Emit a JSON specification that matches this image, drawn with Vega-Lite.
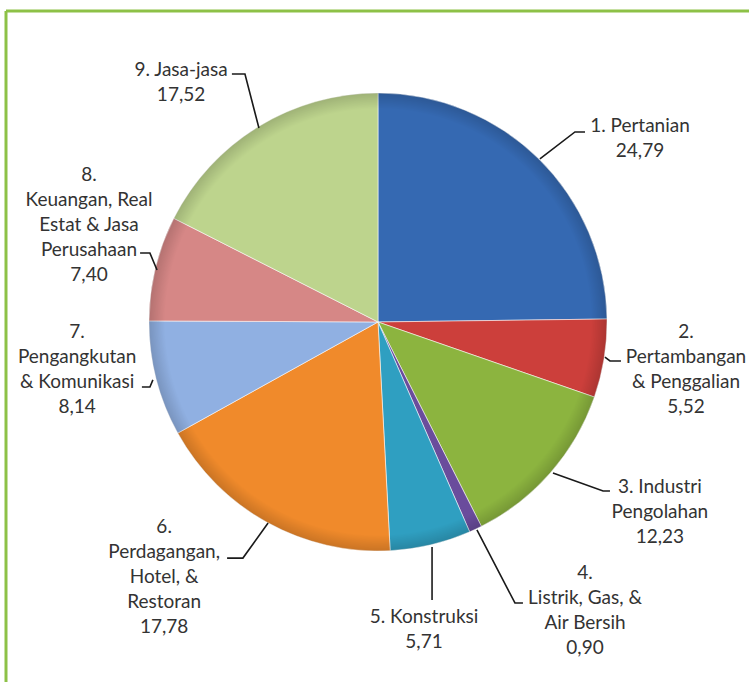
{
  "$schema": "https://vega.github.io/schema/vega-lite/v6.json",
  "width": 743,
  "height": 671,
  "padding": {"left": 6, "top": 11, "right": 0, "bottom": 0},
  "autosize": {"type": "none"},
  "background": "#ffffff",
  "config": {
    "view": {"stroke": null},
    "text": {"font": "Lato", "fontSize": 19, "fill": "#333333", "lineBreak": "\n", "lineHeight": 25}
  },
  "datasets": {
    "slices": [
      {"id": 1, "name": "Pertanian", "value": 24.79, "label": "1. Pertanian\n24,79", "lx": 114.4, "ly": 85.6},
      {"id": 2, "name": "Pertambangan & Penggalian", "value": 5.52, "label": "2.\nPertambangan\n& Penggalian\n5,52", "lx": 134.5, "ly": -4.4},
      {"id": 3, "name": "Industri Pengolahan", "value": 12.23, "label": "3. Industri\nPengolahan\n12,23", "lx": 123.1, "ly": -72.1},
      {"id": 4, "name": "Listrik, Gas, & Air Bersih", "value": 0.9, "label": "4.\nListrik, Gas, &\nAir Bersih\n0,90", "lx": 90.4, "ly": -109.6},
      {"id": 5, "name": "Konstruksi", "value": 5.71, "label": "5. Konstruksi\n5,71", "lx": 20.1, "ly": -128.8},
      {"id": 6, "name": "Perdagangan, Hotel, & Restoran", "value": 17.78, "label": "6.\nPerdagangan,\nHotel, &\nRestoran\n17,78", "lx": -93.4, "ly": -89.5},
      {"id": 7, "name": "Pengangkutan & Komunikasi", "value": 8.14, "label": "7.\nPengangkutan\n& Komunikasi\n8,14", "lx": -131.4, "ly": -4.4},
      {"id": 8, "name": "Keuangan, Real Estat & Jasa Perusahaan", "value": 7.4, "label": "8.\nKeuangan, Real\nEstat & Jasa\nPerusahaan\n7,40", "lx": -126.2, "ly": 64.2},
      {"id": 9, "name": "Jasa-jasa", "value": 17.52, "label": "9. Jasa-jasa\n17,52", "lx": -86.0, "ly": 110.0}
    ],
    "leaders": [
      {"id": 1, "seq": 1, "x": 70.7, "y": 71.2}, {"id": 1, "seq": 2, "x": 86.0, "y": 83.0}, {"id": 1, "seq": 3, "x": 90.4, "y": 83.0},
      {"id": 2, "seq": 1, "x": 99.1, "y": -15.3}, {"id": 2, "seq": 2, "x": 101.3, "y": -17.0}, {"id": 2, "seq": 3, "x": 106.1, "y": -17.0},
      {"id": 3, "seq": 1, "x": 76.4, "y": -65.9}, {"id": 3, "seq": 2, "x": 98.3, "y": -73.8}, {"id": 3, "seq": 3, "x": 101.3, "y": -73.8},
      {"id": 4, "seq": 1, "x": 43.2, "y": -90.8}, {"id": 4, "seq": 2, "x": 59.8, "y": -122.7}, {"id": 4, "seq": 3, "x": 63.3, "y": -122.7},
      {"id": 5, "seq": 1, "x": 23.6, "y": -98.3}, {"id": 5, "seq": 2, "x": 23.6, "y": -121.4},
      {"id": 6, "seq": 1, "x": -48.0, "y": -87.8}, {"id": 6, "seq": 2, "x": -59.0, "y": -103.1}, {"id": 6, "seq": 3, "x": -65.9, "y": -103.1},
      {"id": 7, "seq": 1, "x": -98.3, "y": -25.3}, {"id": 7, "seq": 2, "x": -99.6, "y": -28.4}, {"id": 7, "seq": 3, "x": -103.1, "y": -28.4},
      {"id": 8, "seq": 1, "x": -96.5, "y": 22.7}, {"id": 8, "seq": 2, "x": -99.6, "y": 30.1}, {"id": 8, "seq": 3, "x": -103.9, "y": 30.1},
      {"id": 9, "seq": 1, "x": -52.0, "y": 84.7}, {"id": 9, "seq": 2, "x": -58.1, "y": 108.3}, {"id": 9, "seq": 3, "x": -63.8, "y": 108.3}
    ]
  },
  "layer": [
    {
      "data": {"name": "slices"},
      "mark": {"type": "arc", "outerRadius": 229, "stroke": "#ffffff", "strokeWidth": 1, "strokeOpacity": 0.55},
      "encoding": {
        "x": {"datum": 0, "type": "quantitative", "scale": {"domain": [-162.45, 162.01], "nice": false, "zero": false}, "axis": null},
        "y": {"datum": 0, "type": "quantitative", "scale": {"domain": [-157.21, 135.81], "nice": false, "zero": false}, "axis": null},
        "theta": {"field": "value", "type": "quantitative", "stack": true},
        "order": {"field": "id", "type": "quantitative"},
        "color": {
          "field": "name", "type": "nominal", "legend": null,
          "scale": {
            "domain": ["Pertanian", "Pertambangan & Penggalian", "Industri Pengolahan", "Listrik, Gas, & Air Bersih", "Konstruksi", "Perdagangan, Hotel, & Restoran", "Pengangkutan & Komunikasi", "Keuangan, Real Estat & Jasa Perusahaan", "Jasa-jasa"],
            "range": ["#3569B2", "#CC3F3B", "#8CB43F", "#6A4C9C", "#2F9FC1", "#F08A2B", "#90B0E2", "#D68786", "#BDD48D"]
          }
        }
      }
    },
    {
      "data": {"values": [{"k": 1}]},
      "mark": {
        "type": "arc", "outerRadius": 229, "theta": 0, "theta2": 6.2832,
        "fill": {"gradient": "radial", "x1": 0.5, "y1": 0.5, "r1": 0, "x2": 0.5, "y2": 0.5, "r2": 0.5,
          "stops": [
            {"offset": 0, "color": "rgba(0,0,0,0)"},
            {"offset": 0.93, "color": "rgba(0,0,0,0)"},
            {"offset": 1, "color": "rgba(0,0,0,0.16)"}
          ]}
      },
      "encoding": {
        "x": {"datum": 0, "type": "quantitative"},
        "y": {"datum": 0, "type": "quantitative"}
      }
    },
    {
      "data": {"name": "leaders"},
      "mark": {"type": "line", "stroke": "#1a1a1a", "strokeWidth": 1.6},
      "encoding": {
        "x": {"field": "x", "type": "quantitative"},
        "y": {"field": "y", "type": "quantitative"},
        "detail": {"field": "id"},
        "order": {"field": "seq", "type": "quantitative"}
      }
    },
    {
      "data": {"name": "slices"},
      "mark": {"type": "text", "align": "center", "baseline": "middle"},
      "encoding": {
        "x": {"field": "lx", "type": "quantitative"},
        "y": {"field": "ly", "type": "quantitative"},
        "text": {"field": "label"}
      }
    },
    {
      "data": {"values": [{"k": 1}]},
      "mark": {"type": "rule", "stroke": "#8DC147", "strokeWidth": 3},
      "encoding": {"x": {"datum": -162.45, "type": "quantitative"}}
    },
    {
      "data": {"values": [{"k": 1}]},
      "mark": {"type": "rule", "stroke": "#8DC147", "strokeWidth": 3},
      "encoding": {"y": {"datum": 135.81, "type": "quantitative"}}
    }
  ]
}
